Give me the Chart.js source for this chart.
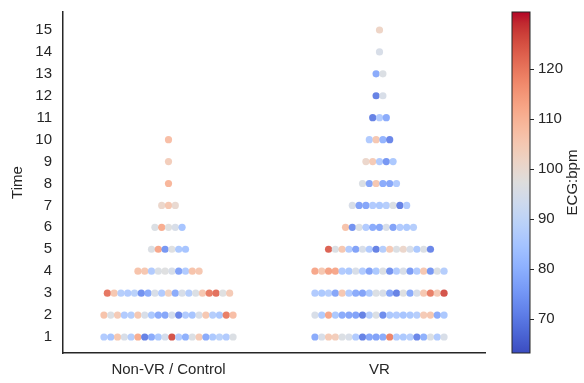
<!DOCTYPE html>
<html>
<head>
<meta charset="utf-8">
<script src="https://cdn.jsdelivr.net/npm/chart.js@4"></script>
<style>
  body { margin: 0; background: #fff; }
</style>
</head>
<body>
<canvas id="chart" width="584" height="383"></canvas>
<script>
// categories and time ticks
const categories = ['Non-VR / Control', 'VR']
const timeTicks = [1, 2, 3, 4, 5, 6, 7, 8, 9, 10, 11, 12, 13, 14, 15]
const colorbarTicks = [70, 80, 90, 100, 110, 120]
const bpmMin = 63.1
const bpmMax = 131.3

// ECG bpm of each participant, one row per time step (time 1 first)
const nonVrBpm = [
    [86, 84, 106, 95, 87, 112, 70, 78, 85, 94, 126, 86, 79, 96, 105, 78, 85, 88, 86, 96],
    [107, 96, 105, 86, 87, 106, 95, 85, 78, 77, 94, 71, 86, 84, 95, 106, 87, 85, 120, 108],
    [121, 106, 87, 86, 88, 73, 78, 95, 86, 103, 78, 95, 87, 96, 106, 120, 122, 97, 105],
    [107, 106, 86, 96, 97, 95, 76, 86, 107, 106],
    [96, 113, 74, 97, 85, 84],
    [96, 112, 97, 95, 84],
    [101, 106, 100],
    [110],
    [104],
    [108]
]
const vrBpm = [
    [78, 95, 105, 104, 96, 95, 86, 70, 77, 76, 78, 119, 86, 85, 87, 71, 79, 96, 86, 95],
    [95, 86, 113, 85, 78, 77, 76, 70, 87, 96, 72, 85, 86, 84, 85, 87, 105, 106, 78, 85],
    [86, 85, 87, 77, 106, 86, 78, 76, 85, 96, 95, 77, 70, 97, 78, 95, 106, 120, 105, 126],
    [113, 106, 114, 113, 86, 85, 95, 86, 76, 85, 96, 73, 86, 95, 75, 86, 106, 74, 96, 87],
    [124, 96, 106, 86, 76, 95, 86, 70, 87, 105, 96, 101, 95, 85, 96, 71],
    [107, 73, 96, 86, 78, 77, 95, 76, 86, 85, 87],
    [95, 76, 77, 86, 85, 87, 96, 70, 86],
    [96, 77, 106, 78, 77, 86],
    [101, 105, 86, 74, 85],
    [86, 106, 80, 71],
    [70, 86, 78],
    [70, 95],
    [78, 96],
    [95],
    [102]
]

// coolwarm colormap stops
const coolwarm = [
    [59,76,192],[68,90,204],[77,104,215],[87,117,225],[98,130,234],[108,142,241],
    [119,154,247],[130,165,251],[141,176,254],[152,185,255],[163,194,255],[174,201,253],
    [184,208,249],[194,213,244],[204,217,238],[213,219,230],[221,221,221],[229,216,209],
    [236,211,197],[241,204,184],[245,196,173],[247,187,160],[247,177,148],[247,166,135],
    [244,154,123],[241,141,111],[236,127,99],[229,112,88],[222,96,77],[213,80,66],
    [203,62,56],[192,40,47],[180,4,38]
]
function cmap(t, alpha) {
    t = Math.max(0, Math.min(1, t))
    const p = t * (coolwarm.length - 1)
    const i = Math.min(Math.floor(p), coolwarm.length - 2)
    const f = p - i
    const a = coolwarm[i], b = coolwarm[i + 1]
    const c = a.map((v, k) => Math.round(v + (b[k] - v) * f))
    return `rgba(${c[0]},${c[1]},${c[2]},${alpha})`
}
const bpmColor = v => cmap((v - bpmMin) / (bpmMax - bpmMin), 0.92)

// swarm layout: spread each row around its category
const step = 0.0322
function swarm(rows, group) {
    const pts = []
    rows.forEach((row, r) => {
        row.forEach((v, i) => {
            pts.push({ x: group + (i - (row.length - 1) / 2) * step, y: timeTicks[r], bpm: v })
        })
    })
    return pts
}
const groups = [nonVrBpm, vrBpm]
const datasets = groups.map((rows, g) => {
    const pts = swarm(rows, g)
    return {
        label: categories[g],
        data: pts,
        pointRadius: 3.6,
        pointHoverRadius: 3.6,
        pointBorderWidth: 0,
        pointBackgroundColor: pts.map(p => bpmColor(p.bpm))
    }
})

const axisColor = '#262626'
const font = { family: 'Liberation Sans, Arial, sans-serif', size: 15 }

const colorbar = {
    id: 'colorbar',
    afterDraw(chart) {
        const ctx = chart.ctx
        const cb = chart.scales.cb
        const x0 = chart.chartArea.right + 27
        const w = 18
        const top = cb.getPixelForValue(bpmMax)
        const bottom = cb.getPixelForValue(bpmMin)
        const grad = ctx.createLinearGradient(0, bottom, 0, top)
        coolwarm.forEach((c, i) => {
            grad.addColorStop(i / (coolwarm.length - 1), `rgb(${c[0]},${c[1]},${c[2]})`)
        })
        ctx.save()
        ctx.fillStyle = grad
        ctx.fillRect(x0, top, w, bottom - top)
        ctx.strokeStyle = axisColor
        ctx.lineWidth = 1
        ctx.strokeRect(x0, top, w, bottom - top)
        colorbarTicks.forEach(v => {
            const y = Math.round(cb.getPixelForValue(v)) + 0.5
            ctx.beginPath()
            ctx.moveTo(x0 + w, y)
            ctx.lineTo(x0 + w + 4, y)
            ctx.stroke()
        })
        ctx.translate(573, (top + bottom) / 2)
        ctx.rotate(-Math.PI / 2)
        ctx.fillStyle = axisColor
        ctx.font = `${font.size}px ${font.family}`
        ctx.textAlign = 'center'
        ctx.textBaseline = 'middle'
        ctx.fillText('ECG:bpm', 0, 0)
        ctx.restore()
    }
}

new Chart(document.getElementById('chart'), {
    type: 'scatter',
    data: { datasets },
    options: {
        responsive: false,
        animation: false,
        layout: { padding: { left: 0, right: 0, top: 12, bottom: 0 } },
        plugins: { legend: { display: false }, tooltip: { enabled: false } },
        scales: {
            x: {
                type: 'linear',
                min: -0.5,
                max: 1.5,
                afterBuildTicks: s => { s.ticks = categories.map((c, i) => ({ value: i })) },
                afterFit: s => { s.height = 30 },
                ticks: { callback: v => categories[v], color: axisColor, font, padding: 8, maxRotation: 0, autoSkip: false },
                grid: { display: false, drawTicks: false },
                border: { display: true, color: axisColor, width: 1.5 }
            },
            y: {
                min: 0.27,
                max: 15.82,
                afterBuildTicks: s => { s.ticks = timeTicks.map(v => ({ value: v })) },
                afterFit: s => { s.width = 63 },
                ticks: { color: axisColor, font, padding: 3, autoSkip: false },
                grid: { display: false, drawTicks: true, tickLength: 8 },
                border: { display: true, color: axisColor, width: 1.5 },
                title: { display: true, text: 'Time', color: axisColor, font, padding: { top: 9, bottom: 8 } }
            },
            cb: {
                position: 'right',
                min: bpmMin,
                max: bpmMax,
                afterBuildTicks: s => { s.ticks = colorbarTicks.map(v => ({ value: v })) },
                afterFit: s => { s.width = 99 },
                ticks: { color: axisColor, font, padding: 3, autoSkip: false },
                grid: { display: false, drawTicks: true, tickLength: 50 },
                border: { display: false }
            }
        }
    },
    plugins: [colorbar]
})
</script>
</body>
</html>
